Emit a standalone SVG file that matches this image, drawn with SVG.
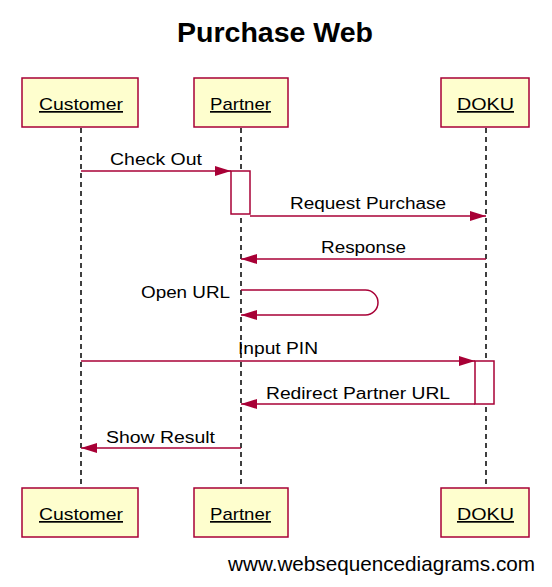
<svg xmlns="http://www.w3.org/2000/svg" width="552" height="587" viewBox="0 0 552 587">
<style>
  .box{fill:#fefece;stroke:#a80036;stroke-width:1.5}
  .life{stroke:#000;stroke-width:1.5;stroke-dasharray:5,4;fill:none}
  .msg{stroke:#a80036;stroke-width:1.5;fill:none}
  .act{fill:#fff;stroke:#a80036;stroke-width:1.5}
  .pt{font-family:"Liberation Sans",Arial,sans-serif;font-size:17px;fill:#000;text-decoration:underline}
  .lbl{font-family:"Liberation Sans",Arial,sans-serif;font-size:16px;fill:#000}
</style>
<defs>
  <marker id="ah" markerUnits="userSpaceOnUse" markerWidth="17" markerHeight="11" viewBox="0 0 17 11" refX="16" refY="5.5" orient="auto">
    <path d="M0,0.5 L16,5.5 L0,10.5 z" fill="#a80036"/>
  </marker>
</defs>
<rect width="552" height="587" fill="#fff"/>
<text x="275" y="42" text-anchor="middle" font-family="Liberation Sans,Arial,sans-serif" font-size="28" font-weight="bold" textLength="196" lengthAdjust="spacingAndGlyphs">Purchase Web</text>

<g id="lifelines">
  <line class="life" x1="81" y1="128" x2="81" y2="488"/>
  <line class="life" x1="241" y1="128" x2="241" y2="488"/>
  <line class="life" x1="486" y1="128" x2="486" y2="488"/>
</g>

<g id="activations">
  <rect class="act" x="231" y="171" width="19" height="43"/>
  <rect class="act" x="475" y="361" width="19" height="43"/>
</g>

<g id="connectors">
  <line class="msg" x1="81" y1="171" x2="231" y2="171" marker-end="url(#ah)"/>
  <line class="msg" x1="250" y1="216" x2="486" y2="216" marker-end="url(#ah)"/>
  <line class="msg" x1="486" y1="259" x2="241" y2="259" marker-end="url(#ah)"/>
  <path class="msg" d="M241,290 H365.5 A12.5,12.5 0 0 1 365.5,315 H241" marker-end="url(#ah)"/>
  <line class="msg" x1="81" y1="361" x2="475" y2="361" marker-end="url(#ah)"/>
  <line class="msg" x1="475" y1="404" x2="241" y2="404" marker-end="url(#ah)"/>
  <line class="msg" x1="241" y1="448" x2="81" y2="448" marker-end="url(#ah)"/>
</g>

<g id="labels">
  <text class="lbl" x="110" y="165" textLength="92" lengthAdjust="spacingAndGlyphs">Check Out</text>
  <text class="lbl" x="290" y="209" textLength="156" lengthAdjust="spacingAndGlyphs">Request Purchase</text>
  <text class="lbl" x="321" y="253" textLength="85" lengthAdjust="spacingAndGlyphs">Response</text>
  <text class="lbl" x="141" y="298" textLength="89" lengthAdjust="spacingAndGlyphs">Open URL</text>
  <text class="lbl" x="238" y="354" textLength="80" lengthAdjust="spacingAndGlyphs">Input PIN</text>
  <text class="lbl" x="266" y="399" textLength="184" lengthAdjust="spacingAndGlyphs">Redirect Partner URL</text>
  <text class="lbl" x="106" y="443" textLength="109" lengthAdjust="spacingAndGlyphs">Show Result</text>
</g>

<g id="customer-top">
  <rect class="box" x="22" y="78" width="116" height="49"/>
  <text class="pt" x="39" y="110" textLength="84" lengthAdjust="spacingAndGlyphs">Customer</text>
</g>
<g id="partner-top">
  <rect class="box" x="194" y="78" width="94" height="49"/>
  <text class="pt" x="210" y="110" textLength="61" lengthAdjust="spacingAndGlyphs">Partner</text>
</g>
<g id="doku-top">
  <rect class="box" x="441" y="78" width="88" height="49"/>
  <text class="pt" x="457" y="110" textLength="57" lengthAdjust="spacingAndGlyphs">DOKU</text>
</g>
<g id="customer-bottom">
  <rect class="box" x="22" y="488" width="116" height="49"/>
  <text class="pt" x="39" y="520" textLength="84" lengthAdjust="spacingAndGlyphs">Customer</text>
</g>
<g id="partner-bottom">
  <rect class="box" x="194" y="488" width="94" height="49"/>
  <text class="pt" x="210" y="520" textLength="61" lengthAdjust="spacingAndGlyphs">Partner</text>
</g>
<g id="doku-bottom">
  <rect class="box" x="441" y="488" width="88" height="49"/>
  <text class="pt" x="457" y="520" textLength="57" lengthAdjust="spacingAndGlyphs">DOKU</text>
</g>

<text x="228" y="571" font-family="Liberation Sans,Arial,sans-serif" font-size="21" textLength="307" lengthAdjust="spacingAndGlyphs">www.websequencediagrams.com</text>
</svg>
